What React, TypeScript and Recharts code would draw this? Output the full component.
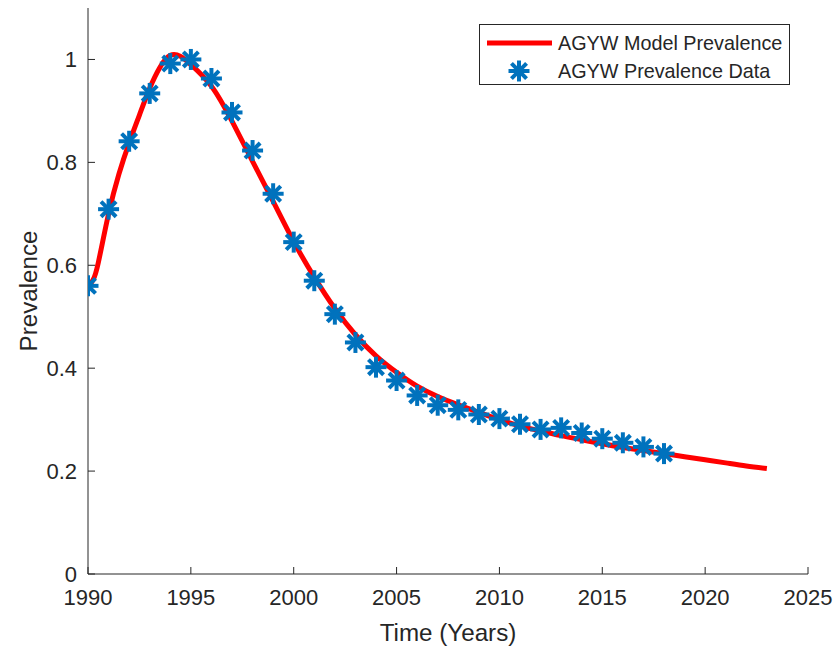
import { ComposedChart, Line, Scatter, XAxis, YAxis, Legend } from 'recharts'

// observed AGYW prevalence, one point a year
const dataYears = [
  1990, 1991, 1992, 1993, 1994, 1995, 1996, 1997, 1998, 1999, 2000, 2001, 2002, 2003, 2004,
  2005, 2006, 2007, 2008, 2009, 2010, 2011, 2012, 2013, 2014, 2015, 2016, 2017, 2018,
]
const dataValues = [
  0.56, 0.709, 0.841, 0.934, 0.992, 1.0, 0.963, 0.897, 0.823, 0.739, 0.645, 0.57, 0.505, 0.45, 0.402,
  0.376, 0.347, 0.328, 0.319, 0.31, 0.302, 0.291, 0.281, 0.284, 0.274, 0.263, 0.255, 0.247, 0.234,
]

// fitted model curve
const modelYears = [
  1990, 1990.25, 1990.5, 1991, 1991.5, 1992, 1992.5, 1993, 1993.5, 1994, 1994.5, 1995, 1996, 1997,
  1998, 1999, 2000, 2001, 2002, 2003, 2004, 2005, 2006, 2007, 2008, 2009, 2010, 2011, 2012, 2013,
  2014, 2015, 2016, 2017, 2018, 2019, 2020, 2021, 2022, 2023,
]
const modelValues = [
  0.557, 0.572, 0.605, 0.7, 0.777, 0.838, 0.892, 0.944, 0.985, 1.008, 1.006, 0.99, 0.948, 0.88,
  0.802, 0.724, 0.646, 0.577, 0.516, 0.465, 0.424, 0.392, 0.365, 0.345, 0.329, 0.314, 0.3, 0.288,
  0.278, 0.269, 0.261, 0.253, 0.246, 0.24, 0.234, 0.228, 0.222, 0.216, 0.21, 0.205,
]

const xTicks = [1990, 1995, 2000, 2005, 2010, 2015, 2020, 2025]
const yTicks = [0, 0.2, 0.4, 0.6, 0.8, 1]

const modelData = modelYears.map((x, i) => ({ x, y: modelValues[i] }))
const obsData = dataYears.map((x, i) => ({ x, y: dataValues[i] }))

const FONT = '"Liberation Sans", Arial, Helvetica, sans-serif'
const AX = '#262626'
const BLUE = '#0072BD'
const RED = '#FF0000'

function Asterisk({ cx, cy, r = 10.5 }: { cx: number; cy: number; r?: number }) {
  const d = r * 0.72
  return (
    <g stroke={BLUE} strokeWidth={4}>
      <line x1={cx - r} y1={cy} x2={cx + r} y2={cy} />
      <line x1={cx} y1={cy - r} x2={cx} y2={cy + r} />
      <line x1={cx - d} y1={cy - d} x2={cx + d} y2={cy + d} />
      <line x1={cx - d} y1={cy + d} x2={cx + d} y2={cy - d} />
    </g>
  )
}

function LegendBox() {
  return (
    <div
      style={{
        width: 311,
        height: 61,
        boxSizing: 'border-box',
        border: `1px solid ${AX}`,
        background: '#fff',
        position: 'relative',
        fontFamily: FONT,
        fontSize: 19.8,
        color: AX,
      }}
    >
      <svg width={311} height={61} style={{ position: 'absolute', left: 0, top: 0 }}>
        <line x1={7} y1={18} x2={72} y2={18} stroke={RED} strokeWidth={5} />
        <Asterisk cx={39} cy={46} />
        <text x={78} y={18} dominantBaseline="central" fontFamily={FONT} fontSize={19.8} fill={AX}>
          AGYW Model Prevalence
        </text>
        <text x={78} y={46} dominantBaseline="central" fontFamily={FONT} fontSize={19.8} fill={AX}>
          AGYW Prevalence Data
        </text>
      </svg>
    </div>
  )
}

export default function App() {
  const tickStyle = { fontSize: 22, fill: AX, fontFamily: FONT }
  return (
    <div style={{ position: 'absolute', left: 0, top: 0, background: '#fff' }}>
      <ComposedChart width={838} height={650} margin={{ top: 8, right: 30, bottom: 36, left: 28 }}>
        <XAxis
          xAxisId="bottom"
          dataKey="x"
          type="number"
          domain={[1990, 2025]}
          ticks={xTicks}
          allowDataOverflow
          height={40}
          stroke={AX}
          tickSize={-7}
          tickMargin={22}
          tick={tickStyle}
          label={{
            content: () => (
              <text x={448} y={641} textAnchor="middle" fontFamily={FONT} fontSize={24.2} fill={AX}>
                Time (Years)
              </text>
            ),
          }}
        />
        <XAxis
          xAxisId="top"
          orientation="top"
          dataKey="x"
          type="number"
          domain={[1990, 2025]}
          ticks={xTicks}
          height={0}
          stroke={AX}
          tickSize={-7}
          tickFormatter={() => ''}
        />
        <YAxis
          yAxisId="left"
          type="number"
          domain={[0, 1.1]}
          ticks={yTicks}
          width={60}
          stroke={AX}
          tickSize={-7}
          tickMargin={18}
          tick={tickStyle}
          tickFormatter={(v: number) => String(v)}
          label={{
            content: () => (
              <text
                x={28}
                y={291}
                transform="rotate(-90 28 291)"
                textAnchor="middle"
                dominantBaseline="central"
                fontFamily={FONT}
                fontSize={24.2}
                fill={AX}
              >
                Prevalence
              </text>
            ),
          }}
        />
        <YAxis
          yAxisId="right"
          orientation="right"
          type="number"
          domain={[0, 1.1]}
          ticks={yTicks}
          width={0}
          stroke={AX}
          tickSize={-7}
          tickFormatter={() => ''}
        />
        <Line
          xAxisId="bottom"
          yAxisId="left"
          data={modelData}
          dataKey="y"
          type="natural"
          stroke={RED}
          strokeWidth={5}
          dot={false}
          activeDot={false}
          isAnimationActive={false}
          name="AGYW Model Prevalence"
        />
        <Scatter
          xAxisId="bottom"
          yAxisId="left"
          data={obsData}
          dataKey="y"
          shape={(p: any) => <Asterisk cx={p.cx} cy={p.cy} />}
          isAnimationActive={false}
          name="AGYW Prevalence Data"
        />
        <Legend
          layout="horizontal"
          verticalAlign="middle"
          align="center"
          content={() => <LegendBox />}
          wrapperStyle={{ position: 'absolute', left: 479, top: 24, width: 311, height: 61 }}
        />
      </ComposedChart>
    </div>
  )
}
